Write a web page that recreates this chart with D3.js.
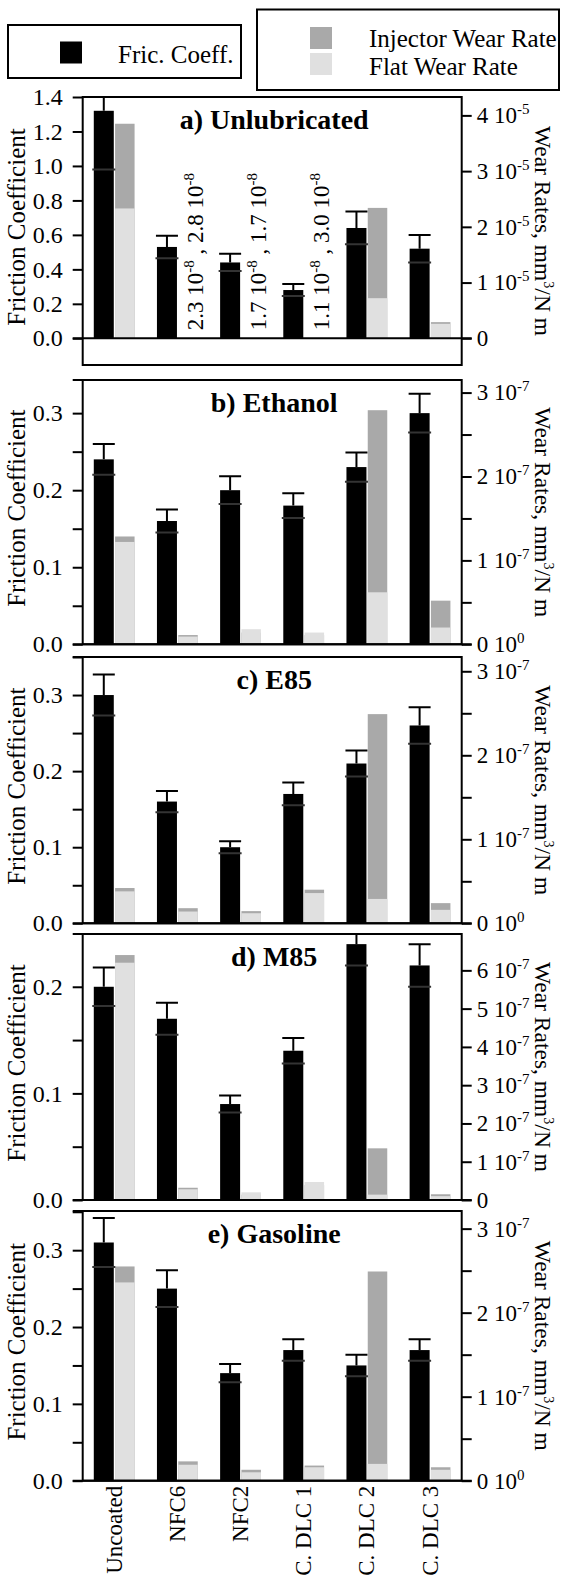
<!DOCTYPE html>
<html lang="en">
<head>
    <meta charset="UTF-8">
    <title>Friction and Wear</title>
    <style>
        body {
            margin: 0px;
            padding: 0px;
            background-color: white;
        }

        svg text {
            font-family: "Liberation Serif", "Times New Roman", serif;
            fill: black;
        }
    </style>
</head>
<body>
    <div id="chart"></div>

    <script src="https://cdn.jsdelivr.net/npm/d3@7"></script>
    <script>

        // data
        const categories = ["Uncoated", "NFC6", "NFC2", "C. DLC 1", "C. DLC 2", "C. DLC 3"];
        const panelTitles = ["a) Unlubricated", "b) Ethanol", "c) E85", "d) M85", "e) Gasoline"];

        const frictionCoeff = [
            [1.32, 0.53, 0.44, 0.28, 0.64, 0.52],
            [0.24, 0.16, 0.20, 0.18, 0.23, 0.30],
            [0.30, 0.16, 0.10, 0.17, 0.21, 0.26],
            [0.20, 0.17, 0.09, 0.14, 0.24, 0.22],
            [0.31, 0.25, 0.14, 0.17, 0.15, 0.17]
        ];
        const frictionErr = [
            [0.34, 0.065, 0.05, 0.035, 0.095, 0.08],
            [0.02, 0.015, 0.018, 0.016, 0.019, 0.025],
            [0.027, 0.014, 0.008, 0.015, 0.017, 0.024],
            [0.018, 0.015, 0.008, 0.012, 0.02, 0.02],
            [0.032, 0.024, 0.012, 0.014, 0.014, 0.014]
        ];
        // mm3/N m
        const injectorWear = [
            [3.85e-5, 2.3e-8, 1.7e-8, 1.1e-8, 2.34e-5, 2.9e-6],
            [1.285e-7, 1.1e-8, 1.4e-8, 1.1e-8, 2.79e-7, 5.2e-8],
            [4.2e-8, 1.8e-8, 1.45e-8, 4.0e-8, 2.49e-7, 2.4e-8],
            [6.4e-7, 3.2e-8, 1.4e-8, 3.9e-8, 1.35e-7, 1.5e-8],
            [2.55e-7, 2.3e-8, 1.3e-8, 1.8e-8, 2.49e-7, 1.6e-8]
        ];
        const flatWear = [
            [2.33e-5, 2.8e-8, 1.7e-8, 3.0e-8, 7.2e-6, 2.6e-6],
            [1.22e-7, 9.2e-9, 1.8e-8, 1.4e-8, 6.2e-8, 2.0e-8],
            [3.8e-8, 1.4e-8, 1.2e-8, 3.6e-8, 2.9e-8, 1.6e-8],
            [6.2e-7, 2.8e-8, 2.0e-8, 4.7e-8, 1.4e-8, 1.0e-8],
            [2.36e-7, 1.9e-8, 1.0e-8, 1.6e-8, 2.0e-8, 1.3e-8]
        ];

        // axes
        const frictionMax = [1.4, 0.343, 0.350, 0.2495, 0.351];
        const frictionTickStep = [0.2, 0.05, 0.05, 0.05, 0.05];
        const frictionLabelStep = [0.2, 0.1, 0.1, 0.1, 0.1];
        const wearMax = [4.33e-5, 3.15e-7, 3.17e-7, 6.95e-7, 3.21e-7];
        const wearTickStep = [1e-5, 0.5e-7, 0.5e-7, 1e-7, 0.5e-7];
        const wearLabelStep = [1e-5, 1e-7, 1e-7, 1e-7, 1e-7];
        const wearExponent = [-5, -7, -7, -7, -7];
        const wearZeroLabel = [["0", ""], ["0 10", "0"], ["0 10", "0"], ["0", ""], ["0 10", "0"]];

        const legendItems = ["Fric. Coeff.", "Injector Wear Rate", "Flat Wear Rate"];

        // layout
        const w = 562;
        const h = 1578;
        const left = 82.7;
        const right = 461.7;
        const tick = 10;
        const panelTop = [97, 380, 657, 934, 1211];
        const panelZero = [338.3, 644.3, 923.3, 1200, 1480.7];
        const panelBottom = [365, 644.3, 923.3, 1200, 1480.7];

        const colFric = "#000000";
        const colInjector = "#a9a9a9";
        const colFlat = "#e0e0e0";

        const svg = d3.select("#chart")
            .append("svg")
            .attr("width", w)
            .attr("height", h);

        const x = d3.scaleBand()
            .domain(categories)
            .range([left, right])
            .padding(0);

        const center = (c) => x(c) + x.bandwidth() / 2;

        function tickList(max, step) {
            const n = Math.floor(max / step + 1e-6);
            return d3.range(n + 1).map((i) => +(i * step).toPrecision(8));
        }

        function onStep(v, step) {
            const r = v / step;
            return Math.abs(r - Math.round(r)) < 1e-6;
        }

        function sciParts(v) {
            const e = Math.floor(Math.log10(v) + 1e-9);
            return [(v / Math.pow(10, e)).toFixed(1), e];
        }

        for (let p = 0; p < 5; p++) {
            const top = panelTop[p];
            const zero = panelZero[p];
            const bottom = panelBottom[p];

            const yL = d3.scaleLinear().domain([0, frictionMax[p]]).range([zero, top]);
            const yR = d3.scaleLinear().domain([0, wearMax[p]]).range([zero, top]);

            const g = svg.append("g").attr("class", "panel");

            g.append("clipPath")
                .attr("id", "clip" + p)
                .append("rect")
                .attr("x", left)
                .attr("y", top)
                .attr("width", right - left)
                .attr("height", zero - top);

            const plot = g.append("g").attr("clip-path", `url(#clip${p})`);

            // friction bars
            plot.selectAll(".fric")
                .data(categories)
                .enter()
                .append("rect")
                .attr("class", "fric")
                .attr("x", (d) => center(d) - 20.5)
                .attr("width", 20)
                .attr("y", (d, i) => yL(frictionCoeff[p][i]))
                .attr("height", (d, i) => zero - yL(frictionCoeff[p][i]))
                .attr("fill", colFric);

            // wear bars, flat drawn over injector
            plot.selectAll(".inj")
                .data(categories)
                .enter()
                .append("rect")
                .attr("class", "inj")
                .attr("x", (d) => center(d) + 0.8)
                .attr("width", 19.5)
                .attr("y", (d, i) => yR(injectorWear[p][i]))
                .attr("height", (d, i) => zero - yR(injectorWear[p][i]))
                .attr("fill", colInjector);

            plot.selectAll(".flat")
                .data(categories)
                .enter()
                .append("rect")
                .attr("class", "flat")
                .attr("x", (d) => center(d) + 0.8)
                .attr("width", 19.5)
                .attr("y", (d, i) => yR(flatWear[p][i]))
                .attr("height", (d, i) => zero - yR(flatWear[p][i]))
                .attr("fill", colFlat);

            // error bars
            const eb = plot.selectAll(".err")
                .data(categories)
                .enter()
                .append("g")
                .attr("class", "err")
                .attr("stroke", "black")
                .attr("stroke-width", 2);

            eb.append("line")
                .attr("x1", (d) => center(d) - 10.5)
                .attr("x2", (d) => center(d) - 10.5)
                .attr("y1", (d, i) => yL(frictionCoeff[p][i]))
                .attr("y2", (d, i) => yL(frictionCoeff[p][i] + frictionErr[p][i]));

            eb.append("line")
                .attr("x1", (d) => center(d) - 21.5)
                .attr("x2", (d) => center(d) + 0.5)
                .attr("y1", (d, i) => yL(frictionCoeff[p][i] + frictionErr[p][i]))
                .attr("y2", (d, i) => yL(frictionCoeff[p][i] + frictionErr[p][i]));

            eb.append("line")
                .attr("stroke", "#333")
                .attr("x1", (d) => center(d) - 22)
                .attr("x2", (d) => center(d) + 1)
                .attr("y1", (d, i) => yL(frictionCoeff[p][i] - frictionErr[p][i]))
                .attr("y2", (d, i) => yL(frictionCoeff[p][i] - frictionErr[p][i]));

            // tiny unlubricated wear rates written as text
            if (p === 0) {
                categories.forEach((c, i) => {
                    if (injectorWear[p][i] > 1e-7) return;
                    const a = sciParts(injectorWear[p][i]);
                    const b = sciParts(flatWear[p][i]);
                    const t = g.append("text")
                        .attr("transform", `translate(${center(c) + 25.5},${zero - 8}) rotate(-90)`)
                        .attr("font-size", 23);
                    t.append("tspan").text(`${a[0]} 10`);
                    t.append("tspan").attr("font-size", 15).attr("dy", -9).text(a[1]);
                    t.append("tspan").attr("dy", 9).text(` , ${b[0]} 10`);
                    t.append("tspan").attr("font-size", 15).attr("dy", -9).text(b[1]);
                });
            }

            // left axis
            const axL = d3.axisLeft(yL)
                .tickValues(tickList(frictionMax[p], frictionTickStep[p]))
                .tickSize(tick)
                .tickSizeOuter(0)
                .tickPadding(10)
                .tickFormat((v) => onStep(v, frictionLabelStep[p]) ? v.toFixed(1) : "");

            g.append("g")
                .attr("transform", `translate(${left},0)`)
                .call(axL)
                .attr("font-family", null)
                .attr("font-size", 24)
                .call((a) => a.select(".domain").remove())
                .call((a) => a.selectAll("line").attr("stroke-width", 2));

            // right axis
            const axR = d3.axisRight(yR)
                .tickValues(tickList(wearMax[p], wearTickStep[p]))
                .tickSize(tick)
                .tickSizeOuter(0)
                .tickFormat(() => "");

            const gR = g.append("g")
                .attr("transform", `translate(${right},0)`)
                .call(axR)
                .attr("font-family", null)
                .attr("font-size", 23)
                .call((a) => a.select(".domain").remove())
                .call((a) => a.selectAll("line").attr("stroke-width", 2));

            gR.selectAll(".tick").each(function (v) {
                if (!onStep(v, wearLabelStep[p])) return;
                const t = d3.select(this).select("text")
                    .attr("x", tick + 5)
                    .attr("dy", "0.32em")
                    .attr("text-anchor", "start");
                let main, sup;
                if (v === 0) {
                    [main, sup] = wearZeroLabel[p];
                } else {
                    main = Math.round(v / Math.pow(10, wearExponent[p])) + " 10";
                    sup = String(wearExponent[p]);
                }
                t.append("tspan").text(main);
                if (sup) t.append("tspan").attr("font-size", 15).attr("dy", -9).text(sup);
            });

            // frame and zero line
            g.append("rect")
                .attr("x", left)
                .attr("y", top)
                .attr("width", right - left)
                .attr("height", bottom - top)
                .attr("fill", "none")
                .attr("stroke", "black")
                .attr("stroke-width", 2);

            g.append("line")
                .attr("x1", left - tick)
                .attr("x2", right + tick)
                .attr("y1", zero)
                .attr("y2", zero)
                .attr("stroke", "black")
                .attr("stroke-width", 2);

            if (p > 0) {
                g.append("line")
                    .attr("x1", left - tick)
                    .attr("x2", left)
                    .attr("y1", top)
                    .attr("y2", top)
                    .attr("stroke", "black")
                    .attr("stroke-width", 2);
            }

            // titles
            g.append("text")
                .attr("x", (left + right) / 2 + 2)
                .attr("y", top + 32)
                .attr("text-anchor", "middle")
                .attr("font-size", 28)
                .attr("font-weight", "bold")
                .text(panelTitles[p]);

            const mid = (top + bottom) / 2;

            g.append("text")
                .attr("transform", `translate(25,${mid - 4}) rotate(-90)`)
                .attr("text-anchor", "middle")
                .attr("font-size", 25)
                .text("Friction Coefficient");

            const wt = g.append("text")
                .attr("transform", `translate(535,${mid}) rotate(90)`)
                .attr("text-anchor", "middle")
                .attr("font-size", 23.5);
            wt.append("tspan").text("Wear Rates, mm");
            wt.append("tspan").attr("font-size", 14).attr("dy", -9).text("3");
            wt.append("tspan").attr("dy", 9).text("/N m");
        }

        // category labels
        svg.selectAll(".cat")
            .data(categories)
            .enter()
            .append("text")
            .attr("class", "cat")
            .attr("transform", (d) => `translate(${center(d) + 7.5},${panelZero[4] + 5}) rotate(-90)`)
            .attr("text-anchor", "end")
            .attr("font-size", 23)
            .text((d) => d);

        // legends
        const leg = svg.append("g");

        leg.append("rect")
            .attr("x", 8).attr("y", 25).attr("width", 233).attr("height", 53)
            .attr("fill", "none").attr("stroke", "black").attr("stroke-width", 2);
        leg.append("rect")
            .attr("x", 60).attr("y", 41.5).attr("width", 22).attr("height", 22)
            .attr("fill", colFric);
        leg.append("text")
            .attr("x", 118).attr("y", 63).attr("font-size", 25)
            .text(legendItems[0]);

        leg.append("rect")
            .attr("x", 257).attr("y", 9.5).attr("width", 302).attr("height", 80.5)
            .attr("fill", "none").attr("stroke", "black").attr("stroke-width", 2);
        leg.append("rect")
            .attr("x", 310).attr("y", 27).attr("width", 22).attr("height", 22)
            .attr("fill", colInjector);
        leg.append("rect")
            .attr("x", 310).attr("y", 53).attr("width", 22).attr("height", 22)
            .attr("fill", colFlat);
        leg.append("text")
            .attr("x", 369).attr("y", 46.5).attr("font-size", 25)
            .text(legendItems[1]);
        leg.append("text")
            .attr("x", 369).attr("y", 75).attr("font-size", 25)
            .text(legendItems[2]);

    </script>
</body>
</html>
